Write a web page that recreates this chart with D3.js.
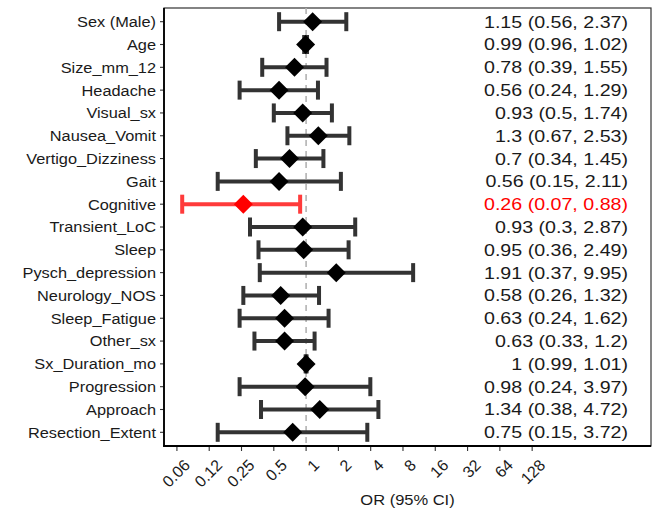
<!DOCTYPE html>
<html>
<head>
<meta charset="utf-8">
<script src="https://cdn.jsdelivr.net/npm/d3@7"></script>
<style>
  body { margin: 0; background: #fff; }
  text { font-family: "Liberation Sans", Arial, sans-serif; }
</style>
</head>
<body>
<div id="forest"></div>
<script>
const variables = ["Sex (Male)", "Age", "Size_mm_12", "Headache", "Visual_sx", "Nausea_Vomit",
    "Vertigo_Dizziness", "Gait", "Cognitive", "Transient_LoC", "Sleep", "Pysch_depression",
    "Neurology_NOS", "Sleep_Fatigue", "Other_sx", "Sx_Duration_mo", "Progression", "Approach",
    "Resection_Extent"];
const oddsRatio = [1.15, 0.99, 0.78, 0.56, 0.93, 1.3, 0.7, 0.56, 0.26, 0.93, 0.95, 1.91,
    0.58, 0.63, 0.63, 1, 0.98, 1.34, 0.75];
const lowerCI = [0.56, 0.96, 0.39, 0.24, 0.5, 0.67, 0.34, 0.15, 0.07, 0.3, 0.36, 0.37,
    0.26, 0.24, 0.33, 0.99, 0.24, 0.38, 0.15];
const upperCI = [2.37, 1.02, 1.55, 1.29, 1.74, 2.53, 1.45, 2.11, 0.88, 2.87, 2.49, 9.95,
    1.32, 1.62, 1.2, 1.01, 3.97, 4.72, 3.72];
const significant = ["Cognitive"];
const tickValues = [0.0625, 0.125, 0.25, 0.5, 1, 2, 4, 8, 16, 32, 64, 128];
const tickLabels = ["0.06", "0.12", "0.25", "0.5", "1", "2", "4", "8", "16", "32", "64", "128"];

const data = variables.map((v, i) => ({
    name: v, or: oddsRatio[i], lo: lowerCI[i], hi: upperCI[i],
    sig: significant.includes(v)
}));

const width = 653, height = 510;
const panel = { left: 164, right: 651, top: 8, bottom: 446 };

const svg = d3.select("#forest")
    .append("svg")
    .attr("width", width)
    .attr("height", height);

const xScale = d3.scaleLog()
    .base(2)
    .domain([Math.pow(2, -4.4), Math.pow(2, 10.68)])
    .range([panel.left, panel.right]);

const yScale = d3.scalePoint()
    .domain(variables)
    .range([panel.top, panel.bottom])
    .padding(0.6);

// panel border
svg.append("rect")
    .attr("x", panel.left)
    .attr("y", panel.top)
    .attr("width", panel.right - panel.left)
    .attr("height", panel.bottom - panel.top)
    .attr("fill", "none")
    .attr("stroke", "#333")
    .attr("stroke-width", 1.2);

// reference line at OR = 1
svg.append("line")
    .attr("x1", xScale(1))
    .attr("x2", xScale(1))
    .attr("y1", panel.top)
    .attr("y2", panel.bottom)
    .attr("stroke", "#b3b3b3")
    .attr("stroke-width", 1.6)
    .attr("stroke-dasharray", "6,5");

const colorOf = d => d.sig ? "#ff0000" : "#000";
const barColor = d => d.sig ? "#ff3b3b" : "#333";

const rows = svg.append("g")
    .selectAll("g")
    .data(data)
    .join("g")
    .attr("transform", d => `translate(0,${yScale(d.name)})`);

rows.append("line")
    .attr("x1", d => xScale(d.lo))
    .attr("x2", d => xScale(d.hi))
    .attr("stroke", barColor)
    .attr("stroke-width", 4);

rows.selectAll("rect.cap")
    .data(d => [{ v: d.lo, d }, { v: d.hi, d }])
    .join("rect")
    .attr("class", "cap")
    .attr("x", c => xScale(c.v) - 2)
    .attr("y", -9.5)
    .attr("width", 4)
    .attr("height", 19)
    .attr("fill", c => barColor(c.d));

rows.append("path")
    .attr("d", "M0,-9.5L9.5,0L0,9.5L-9.5,0Z")
    .attr("transform", d => `translate(${xScale(d.or)},0)`)
    .attr("fill", colorOf);

// estimate text column
rows.append("text")
    .attr("transform", "translate(628,0) scale(1.19,1)")
    .attr("text-anchor", "end")
    .attr("dy", "0.36em")
    .attr("font-size", 16.5)
    .attr("fill", d => d.sig ? "#ff0000" : "#1a1a1a")
    .text(d => `${d.or} (${d.lo}, ${d.hi})`);

// y axis
const yAxis = svg.append("g");
yAxis.selectAll("line")
    .data(variables)
    .join("line")
    .attr("x1", panel.left - 4)
    .attr("x2", panel.left)
    .attr("y1", d => yScale(d))
    .attr("y2", d => yScale(d))
    .attr("stroke", "#333")
    .attr("stroke-width", 1.1);
yAxis.selectAll("text")
    .data(variables)
    .join("text")
    .attr("transform", d => `translate(${panel.left - 8},${yScale(d)}) scale(1.09,1)`)
    .attr("text-anchor", "end")
    .attr("dy", "0.36em")
    .attr("font-size", 15)
    .attr("fill", "#1a1a1a")
    .text(d => d);
svg.append("line")
    .attr("x1", panel.left).attr("x2", panel.left)
    .attr("y1", panel.top).attr("y2", panel.bottom + 0.6)
    .attr("stroke", "#000").attr("stroke-width", 1.8);

// x axis
const xAxis = svg.append("g");
xAxis.selectAll("line")
    .data(tickValues)
    .join("line")
    .attr("x1", d => xScale(d))
    .attr("x2", d => xScale(d))
    .attr("y1", panel.bottom)
    .attr("y2", panel.bottom + 5)
    .attr("stroke", "#333")
    .attr("stroke-width", 1.1);
xAxis.selectAll("text")
    .data(tickValues)
    .join("text")
    .attr("transform", d => `translate(${xScale(d) + 6},${panel.bottom + 12}) rotate(-45)`)
    .attr("text-anchor", "end")
    .attr("dy", "0.72em")
    .attr("font-size", 16)
    .attr("fill", "#1a1a1a")
    .text((d, i) => tickLabels[i]);
svg.append("line")
    .attr("x1", panel.left - 0.9).attr("x2", panel.right)
    .attr("y1", panel.bottom).attr("y2", panel.bottom)
    .attr("stroke", "#000").attr("stroke-width", 1.8);

svg.append("text")
    .attr("transform", `translate(${(panel.left + panel.right) / 2},505) scale(1.1,1)`)
    .attr("text-anchor", "middle")
    .attr("font-size", 15)
    .attr("fill", "#1a1a1a")
    .text("OR (95% CI)");
</script>
</body>
</html>
